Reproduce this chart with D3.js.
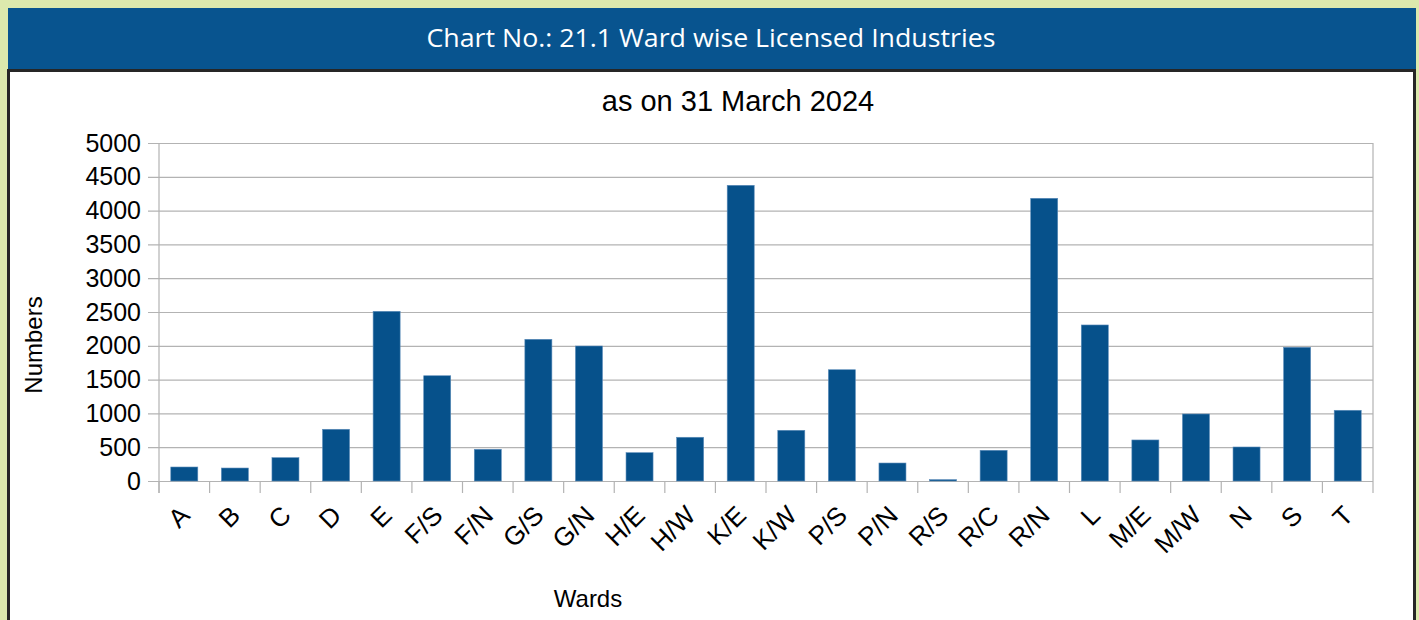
<!DOCTYPE html>
<html>
<head>
<meta charset="utf-8">
<script src="https://cdn.jsdelivr.net/npm/d3@7"></script>
<style>
    body { margin: 0; background: #dce9ad; }
    svg { display: block; }
</style>
</head>
<body>
<div id="chart"></div>
<script>
// wards and licensed industries, as on 31 March 2024
const wards = ['A', 'B', 'C', 'D', 'E', 'F/S', 'F/N', 'G/S', 'G/N', 'H/E', 'H/W', 'K/E', 'K/W', 'P/S', 'P/N', 'R/S', 'R/C', 'R/N', 'L', 'M/E', 'M/W', 'N', 'S', 'T']
const industries = [207, 192, 345, 765, 2510, 1557, 469, 2096, 1997, 419, 647, 4374, 750, 1646, 266, 20, 454, 4182, 2308, 607, 991, 503, 1978, 1046]
const yTicks = [0, 500, 1000, 1500, 2000, 2500, 3000, 3500, 4000, 4500, 5000]

const chartTitle = 'Chart No.: 21.1 Ward wise Licensed Industries'
const subTitle = 'as on 31 March 2024'
const xTitle = 'Wards'
const yTitle = 'Numbers'

const data = wards.map((w, i) => ({ name: w, value: industries[i] }))

const width = 1419
const height = 620
const font = `'Liberation Sans', Arial, sans-serif`
const gridColor = '#b3b3b3'
const barColor = '#06518b'

const svg = d3.select('#chart').append('svg').attr('width', width).attr('height', height)

// header band
svg.append('rect').attr('x', 8).attr('y', 8).attr('width', 1408).attr('height', 62).attr('fill', '#08548f')
svg.append('text')
    .attr('x', 711)
    .attr('y', 47)
    .attr('text-anchor', 'middle')
    .attr('fill', '#ffffff')
    .attr('font-family', `'Open Sans', sans-serif`)
    .attr('font-size', 26)
    .attr('textLength', 569)
    .attr('lengthAdjust', 'spacingAndGlyphs')
    .text(chartTitle)

// white panel
svg.append('rect')
    .attr('x', 8.5)
    .attr('y', 70.5)
    .attr('width', 1406)
    .attr('height', 600)
    .attr('fill', '#ffffff')
    .attr('stroke', '#262626')
    .attr('stroke-width', 3)

svg.append('text')
    .attr('x', 738)
    .attr('y', 111)
    .attr('text-anchor', 'middle')
    .attr('font-family', font)
    .attr('font-size', 29)
    .attr('fill', '#000')
    .text(subTitle)

const pLeft = 159
const pRight = 1373
const pTop = 143
const pBottom = 481

const y = d3.scaleLinear().domain([0, 5000]).range([pBottom, pTop])
const x = d3
    .scaleBand()
    .domain(wards)
    .range([pLeft, pRight])
    .paddingInner(0.466)
    .paddingOuter(0.233)

const graph = svg.append('g')

// grid lines + left ticks
const gYAxis = graph.append('g').attr('transform', `translate(${pLeft}, 0)`)
const yAxis = d3
    .axisLeft(y)
    .tickValues(yTicks)
    .tickFormat((d) => `${d}`)
    .tickSizeInner(-(pRight - pLeft))
    .tickSizeOuter(0)
    .tickPadding(18)
gYAxis.call(yAxis)
gYAxis.select('.domain').remove()
gYAxis.selectAll('line').attr('x1', -11).attr('stroke', gridColor).attr('stroke-width', 1.2)
gYAxis.selectAll('text').attr('font-family', font).attr('font-size', 25).attr('fill', '#000')

// frame verticals
graph.append('line').attr('x1', pLeft).attr('x2', pLeft).attr('y1', pTop).attr('y2', pBottom + 12).attr('stroke', gridColor).attr('stroke-width', 1.2)
graph.append('line').attr('x1', pRight).attr('x2', pRight).attr('y1', pTop).attr('y2', pBottom + 12).attr('stroke', gridColor).attr('stroke-width', 1.2)

// category boundary ticks
const bounds = wards.map((w) => x(w) - (x.step() * x.paddingInner()) / 2)
graph
    .selectAll('line.xtick')
    .data(bounds)
    .enter()
    .append('line')
    .attr('class', 'xtick')
    .attr('x1', (d) => d)
    .attr('x2', (d) => d)
    .attr('y1', pBottom)
    .attr('y2', pBottom + 12)
    .attr('stroke', gridColor)
    .attr('stroke-width', 1.2)

// bars
graph
    .selectAll('rect.bar')
    .data(data)
    .enter()
    .append('rect')
    .attr('class', 'bar')
    .attr('x', (d) => x(d.name))
    .attr('y', (d) => y(d.value))
    .attr('width', x.bandwidth())
    .attr('height', (d) => pBottom - y(d.value))
    .attr('fill', barColor)
    .attr('stroke', '#5c8cba')
    .attr('stroke-width', 0.6)

// rotated ward labels
graph
    .selectAll('text.xlabel')
    .data(wards)
    .enter()
    .append('text')
    .attr('class', 'xlabel')
    .attr('transform', (d) => `translate(${x(d) + x.bandwidth() / 2 + 7}, 517) rotate(-45)`)
    .attr('text-anchor', 'end')
    .attr('font-family', font)
    .attr('font-size', 26)
    .attr('fill', '#000')
    .text((d) => d)

// axis titles
svg.append('text')
    .attr('x', 588)
    .attr('y', 607)
    .attr('text-anchor', 'middle')
    .attr('font-family', font)
    .attr('font-size', 24)
    .attr('fill', '#000')
    .text(xTitle)

svg.append('text')
    .attr('transform', 'translate(42, 345) rotate(-90)')
    .attr('text-anchor', 'middle')
    .attr('font-family', font)
    .attr('font-size', 24)
    .attr('fill', '#000')
    .text(yTitle)
</script>
</body>
</html>
